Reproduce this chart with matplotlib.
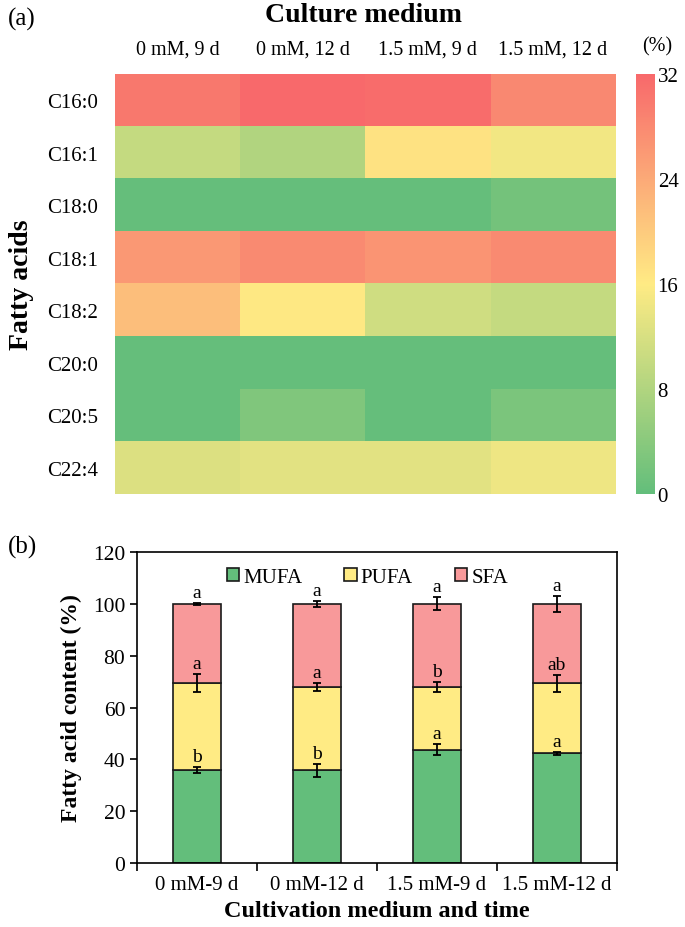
import numpy as np
import matplotlib
import matplotlib.pyplot as plt
from matplotlib.colors import LinearSegmentedColormap

matplotlib.use("Agg")
plt.rcParams['font.family'] = ['Liberation Serif', 'DejaVu Serif']

# heatmap data (%)
fatty_acids = ["C16:0", "C16:1", "C18:0", "C18:1", "C18:2", "C20:0", "C20:5", "C22:4"]
media = ["0 mM, 9 d", "0 mM, 12 d", "1.5 mM, 9 d", "1.5 mM, 12 d"]
c16_0 = [30.0, 32.0, 31.5, 28.0]
c16_1 = [10.0, 8.1, 17.1, 14.7]
c18_0 = [0.3, 0.3, 0.3, 1.8]
c18_1 = [26.0, 27.8, 26.5, 27.8]
c18_2 = [21.4, 16.3, 11.2, 10.0]
c20_0 = [0.3, 0.3, 0.3, 0.3]
c20_5 = [0.3, 3.1, 0.3, 2.6]
c22_4 = [12.4, 13.0, 13.0, 14.3]

# bar chart data (%)
groups = ["0 mM-9 d", "0 mM-12 d", "1.5 mM-9 d", "1.5 mM-12 d"]
mufa = [36.0, 35.7, 43.7, 42.3]
pufa = [33.5, 32.3, 24.3, 27.0]
mufa_err = [1.2, 2.5, 2.2, 0.5]
pufa_err = [3.5, 1.5, 2.0, 3.3]
sfa_err = [0.3, 1.2, 2.5, 3.0]
mufa_letters = ["b", "b", "a", "a"]
pufa_letters = ["a", "a", "b", "ab"]
sfa_letters = ["a", "a", "a", "a"]

fig = plt.figure(figsize=(6.85, 9.28), dpi=100)

# ---- (a) heatmap ----
cmap = LinearSegmentedColormap.from_list(
    "excel3", [(0, "#63BE7B"), (0.5, "#FFEB84"), (1, "#F8696B")])
data = np.array([c16_0, c16_1, c18_0, c18_1, c18_2, c20_0, c20_5, c22_4])

ax1 = fig.add_axes([0.168, 0.4666, 0.730, 0.4526])
im = ax1.imshow(data, cmap=cmap, vmin=0, vmax=32, aspect="auto")
ax1.set_xticks(range(len(media)))
ax1.set_xticklabels(media, fontsize=14.5)
ax1.xaxis.tick_top()
ax1.set_yticks(range(len(fatty_acids)))
ax1.set_yticklabels(fatty_acids, fontsize=15)
ax1.tick_params(axis="x", length=0, pad=11)
ax1.tick_params(axis="y", length=0, pad=12)
for s in ax1.spines.values():
    s.set_visible(False)
ax1.set_ylabel("Fatty acids", fontsize=20, fontweight="bold", labelpad=10)

cax = fig.add_axes([0.928, 0.4666, 0.028, 0.4526])
cb = fig.colorbar(im, cax=cax, ticks=[0, 8, 16, 24, 32])
cb.outline.set_visible(False)
cax.tick_params(length=0, labelsize=15, pad=2)

fig.text(0.53, 0.983, "Culture medium", ha="center", va="center",
         fontsize=20, fontweight="bold")
fig.text(0.96, 0.949, "(%)", ha="center", va="center", fontsize=14.5)
fig.text(0.012, 0.979, "(a)", ha="left", va="center", fontsize=18)

# ---- (b) stacked bars ----
ax2 = fig.add_axes([0.2, 0.069, 0.7007, 0.335])
x = np.arange(len(groups))
mufa = np.array(mufa)
pufa = np.array(pufa)
sfa = 100 - mufa - pufa
w = 0.4
kw = dict(width=w, edgecolor="#1a1a1a", linewidth=1.2, zorder=2)
ax2.bar(x, mufa, color="#63BE7B", label="MUFA", **kw)
ax2.bar(x, pufa, bottom=mufa, color="#FFEB84", label="PUFA", **kw)
ax2.bar(x, sfa, bottom=mufa + pufa, color="#F8999A", label="SFA", **kw)

ekw = dict(fmt="none", ecolor="black", elinewidth=1.3, capsize=3, capthick=1.3, zorder=3)
ax2.errorbar(x, mufa, yerr=mufa_err, **ekw)
ax2.errorbar(x, mufa + pufa, yerr=pufa_err, **ekw)
ax2.errorbar(x, mufa + pufa + sfa, yerr=sfa_err, **ekw)

for i in range(len(groups)):
    ax2.text(x[i], mufa[i] + mufa_err[i] + 0.8, mufa_letters[i], ha="center", va="bottom", fontsize=14)
    ax2.text(x[i], mufa[i] + pufa[i] + pufa_err[i] + 0.8, pufa_letters[i], ha="center", va="bottom", fontsize=14)
    ax2.text(x[i], 100 + sfa_err[i] + 0.8, sfa_letters[i], ha="center", va="bottom", fontsize=14)

ax2.set_xlim(-0.5, 3.5)
ax2.set_ylim(0, 120)
ax2.set_yticks(range(0, 121, 20))
ax2.set_xticks(np.arange(-0.5, 3.6, 1))
ax2.set_xticklabels([])
ax2.set_xticks(x, minor=True)
ax2.set_xticklabels(groups, minor=True, fontsize=15)
ax2.tick_params(axis="x", which="minor", length=0, pad=9)
ax2.tick_params(axis="x", which="major", direction="out", length=6, width=1.2)
ax2.tick_params(axis="y", direction="out", length=5, width=1.2, labelsize=15.5)
for s in ax2.spines.values():
    s.set_linewidth(1.2)
ax2.set_ylabel("Fatty acid content (%)", fontsize=17, fontweight="bold", labelpad=8)
ax2.set_xlabel("Cultivation medium and time", fontsize=17.5, fontweight="bold", labelpad=4)
ax2.legend(loc="upper center", ncol=3, frameon=False, fontsize=15,
           handlelength=0.6, handleheight=0.6, handletextpad=0.2,
           columnspacing=2.0, bbox_to_anchor=(0.48, 1.01))
fig.text(0.012, 0.41, "(b)", ha="left", va="center", fontsize=18)

fig.savefig("out.png", dpi=100)
